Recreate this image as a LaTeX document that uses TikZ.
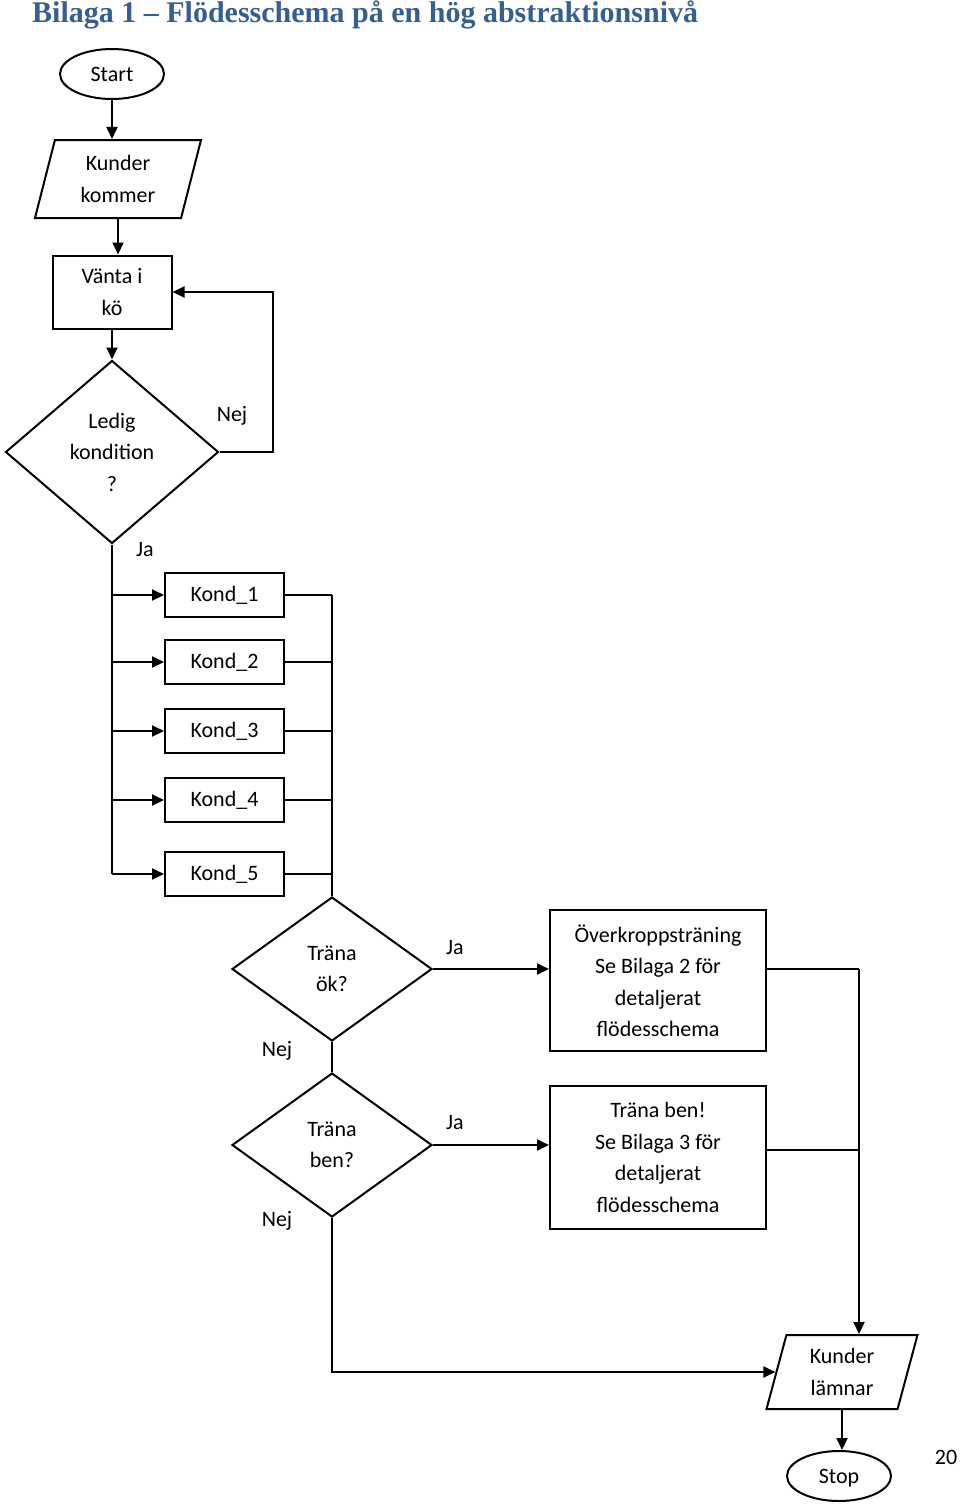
\documentclass[tikz,border=0pt]{standalone}
\usepackage{fontspec}
\setmainfont{Carlito}
\newfontfamily\titlefont{Liberation Serif}
\usetikzlibrary{shapes.geometric,arrows.meta}
\definecolor{titleblue}{RGB}{54,95,145}

\tikzset{
	every node/.style={font=\fontsize{22}{31.5}\selectfont},
	terminal/.style={draw, ellipse, line width=2pt, minimum width=104pt, minimum height=50pt, inner sep=0pt},
	process/.style={draw, rectangle, line width=2pt, inner sep=0pt, align=center},
	io/.style={draw, trapezium, trapezium left angle=67, trapezium right angle=113, trapezium stretches body, line width=2pt, inner sep=0pt, align=center},
	decision/.style={draw, diamond, line width=2pt, inner sep=0pt, align=center},
	flow/.style={line width=2pt},
	>={Triangle[length=12pt,width=11pt]}
}

\begin{document}
\begin{tikzpicture}[x=1pt,y=-1pt]

	\useasboundingbox (0,0) rectangle (960,1505);

	% title
	\node[anchor=base west, font=\titlefont\bfseries\fontsize{30}{34}\selectfont, text=titleblue, inner sep=0pt] (title) at (32,22) {Bilaga 1 – Flödesschema på en hög abstraktionsnivå};

	% draw start and queue
	\node[terminal] (start) at (112,74) {Start};
	\node[io, minimum width=166pt, minimum height=78pt] (kommer) at (118,179) {Kunder\\kommer};
	\node[process, minimum width=119pt, minimum height=73pt] (vanta) at (112,292) {Vänta i\\kö};
	\node[decision, minimum width=213pt, minimum height=183pt] (ledig) at (112,452) {Ledig\\kondition\\?};
	\coordinate (loop) at (273,452);

	\draw[flow,->] (start.south) -- (start.south |- kommer.north);
	\draw[flow,->] (kommer.south) -- (kommer.south |- vanta.north);
	\draw[flow,->] (vanta.south) -- (ledig.north);
	\draw[flow,->] (ledig.east) -- (loop) |- (vanta.east);
	\node (nej_1) at (232,416) {Nej};
	\node (ja_1) at (145,550) {Ja};

	% draw kond boxes
	\foreach \s/\y in {1/595,2/662,3/731,4/800,5/874}
	{
		\node[process, minimum width=119pt, minimum height=44pt] (kond_\s) at (224.5,\y) {Kond\_\s};
	}

	% draw training decisions
	\node[decision, minimum width=200pt, minimum height=144pt] (ok) at (332,969) {Träna\\ök?};
	\node[decision, minimum width=200pt, minimum height=144pt] (ben) at (332,1145) {Träna\\ben?};
	\node[process, minimum width=216pt, minimum height=141pt] (overkropp) at (658,980.5) {Överkroppsträning\\Se Bilaga 2 för\\detaljerat\\flödesschema};
	\node[process, minimum width=216pt, minimum height=143pt] (benbox) at (658,1157.5) {Träna ben!\\Se Bilaga 3 för\\detaljerat\\flödesschema};
	\node (ja_2) at (455,948) {Ja};
	\node (nej_2) at (277,1051) {Nej};
	\node (ja_3) at (455,1123) {Ja};
	\node (nej_3) at (277,1221) {Nej};

	% draw end
	\node[io, minimum width=151pt, minimum height=74pt] (lamnar) at (842,1372) {Kunder\\lämnar};
	\node[terminal, text depth=-4pt] (stop) at (839,1476) {Stop};
	\node (page) at (946,1457) {20};
	\coordinate (join) at (859,969);

	% draw edges
	\draw[flow] (ledig.south) -- (ledig.south |- kond_5.west);
	\foreach \s in {1,...,5}
	{
		\draw[flow,->] (ledig.south |- kond_\s.west) -- (kond_\s.west);
		\draw[flow] (kond_\s.east) -- (kond_\s.east -| ok.north);
	}
	\draw[flow] (kond_1.east -| ok.north) -- (ok.north);
	\draw[flow,->] (ok.east) -- (ok.east -| overkropp.west);
	\draw[flow] (ok.south) -- (ben.north);
	\draw[flow,->] (ben.east) -- (ben.east -| benbox.west);
	\draw[flow] (overkropp.east |- ok.east) -- (join);
	\draw[flow,->] (join) -- (join |- lamnar.north);
	\draw[flow] ([yshift=8pt]benbox.east) -- ([yshift=8pt]benbox.east -| join);
	\draw[flow,->] (ben.south) |- (lamnar.west);
	\draw[flow,->] (lamnar.south) -- (lamnar.south |- stop.north);

\end{tikzpicture}
\end{document}
